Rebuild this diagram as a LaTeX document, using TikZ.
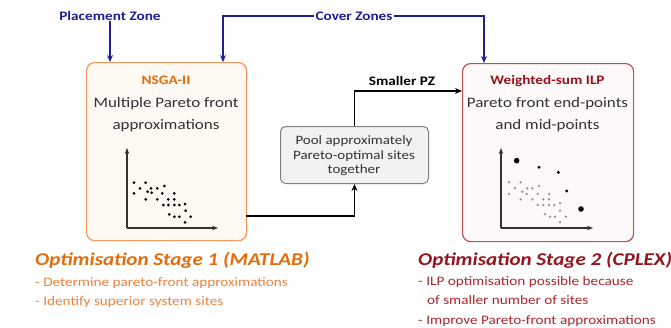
\documentclass[tikz,border=0pt]{standalone}
\usepackage{fontspec}
\setmainfont{Carlito}[FakeStretch=1.17]
\usetikzlibrary{arrows.meta}
\definecolor{navy}{RGB}{30,30,150}
\definecolor{orangeT}{RGB}{228,108,10}
\definecolor{orangeL}{RGB}{238,130,60}
\definecolor{orangeB}{RGB}{242,150,90}
\definecolor{orangeF}{RGB}{255,249,244}
\definecolor{redT}{RGB}{150,20,28}
\definecolor{redL}{RGB}{170,40,45}
\definecolor{redB}{RGB}{192,80,85}
\definecolor{redF}{RGB}{253,249,249}
\definecolor{txt}{RGB}{50,50,50}
\begin{document}
\begin{tikzpicture}[x=1pt,y=-1pt,
  bigbox/.style={rounded corners=8pt,line width=1.2pt,minimum width=160pt,minimum height=178pt,anchor=north west,inner sep=0pt},
  blue arr/.style={draw=navy,line width=1.5pt,-{Stealth[length=7pt,width=6pt]}},
  black arr/.style={draw=black,line width=1.5pt,-{Stealth[length=7pt,width=6pt]}},
  axis/.style={draw=txt,line width=1.2pt,-{Stealth[length=6pt,width=4.5pt]}},
  lbl/.style={font=\fontsize{13}{15}\selectfont\bfseries,text=navy,anchor=base,inner sep=1pt},
  boxtxt/.style={font=\fontsize{14.5}{17}\selectfont,text=txt,anchor=base,inner sep=0pt},
  midtxt/.style={font=\fontsize{12.8}{15}\selectfont,text=txt,anchor=base,inner sep=0pt},
  stage/.style={font=\fontsize{18}{22}\selectfont\bfseries\itshape,anchor=base west,inner sep=0pt},
  bullet/.style={font=\fontsize{13}{15}\selectfont,anchor=base west,inner sep=0pt}]
\useasboundingbox (0,0) rectangle (671,327);
\fill[white] (0,0) rectangle (671,327);

% boxes
\node[bigbox,draw=orangeB,fill=orangeF] (box1) at (86,62) {};
\node[bigbox,draw=redB,fill=redF,minimum width=171pt] (box2) at (462,63) {};
\node[draw=gray,fill=gray!10,rounded corners=5pt,line width=1pt,minimum width=148pt,minimum height=57pt,anchor=north west] (mid) at (280,126) {};

% box 1 text
\node[font=\fontsize{13}{15}\selectfont\bfseries,text=orangeT,anchor=base,inner sep=0pt] (t1) at (166,84) {NSGA-II};
\node[boxtxt] (t1a) at (166,107.5) {Multiple Pareto front};
\node[boxtxt] (t1b) at (166,129) {approximations};

% box 2 text
\node[font=\fontsize{13}{15}\selectfont\bfseries,text=redT,anchor=base,inner sep=0pt] (t2) at (547.5,84) {Weighted-sum ILP};
\node[boxtxt] (t2a) at (547.5,107.5) {Pareto front end-points};
\node[boxtxt] (t2b) at (547.5,129) {and mid-points};

% middle text
\node[midtxt] (m1) at (354,144) {Pool approximately};
\node[midtxt] (m2) at (354,159) {Pareto-optimal sites};
\node[midtxt] (m3) at (354,173.5) {together};

% axes box 1
\coordinate (o1) at (127,228);
\coordinate (y1) at (127,148);
\coordinate (x1) at (218,228);
\draw[axis] (o1) -- (y1);
\draw[axis] (o1) -- (x1);
\foreach \a/\b in {162/383,197/383,180/400,213/400,232/400,253/393,162/415,203/410,215/413,247/415,283/415,197/433,232/433,265/433,283/433,250/450,265/450,283/450,298/450,315/447,317/467,268/478,283/485,298/485,332/485,315/502}
  \fill[black] (80+\a/3,55+\b/3) circle (1.5pt);

% axes box 2
\coordinate (o2) at (501,228);
\coordinate (y2) at (501,148);
\coordinate (x2) at (593,228);
\draw[axis] (o2) -- (y2);
\draw[axis] (o2) -- (x2);
\foreach \a/\b in {207/382,242/382,225/400,247/410,262/400,277/400,297/393,207/417,260/417,293/417,328/417,242/433,277/433,310/433,327/433,293/450,310/450,327/450,343/450,360/445,360/467,315/478,330/485,345/485,378/485,360/502}
  \fill[gray!80] (440+\a/3,55+\b/3) circle (1.4pt);
\foreach \a/\b in {297/337,355/352,380/408}
  \fill[black] (440+\a/3,55+\b/3) circle (1.6pt);
\foreach \a/\b in {230/317,423/462}
  \fill[black] (440+\a/3,55+\b/3) circle (2.8pt);

% top labels and blue arrows
\node[lbl] (pz) at (110,20) {Placement Zone};
\node[lbl] (cz) at (354,20) {Cover Zones};
\coordinate (in1) at (223,62);
\coordinate (in2) at (484,63);
\draw[blue arr] (pz) -- (pz |- box1.north);
\draw[blue arr] (cz.west) -| (in1);
\draw[blue arr] (cz.east) -| (in2);

% black arrows
\coordinate (out1) at (246,216);
\coordinate (in3) at (462,91);
\draw[black arr] (out1) -| (mid.south);
\draw[black arr] (mid.north) |- (in3);
\node[font=\fontsize{13}{15}\selectfont\bfseries,anchor=base,inner sep=0pt] (spz) at (402,85) {Smaller PZ};

% bottom texts
\node[stage,text=orangeT] (s1) at (35,265) {Optimisation Stage 1 (MATLAB)};
\node[bullet,text=orangeL] (s1a) at (35,286) {- Determine pareto-front approximations};
\node[bullet,text=orangeL] (s1b) at (35,305) {- Identify superior system sites};

\node[stage,text=redT] (s2) at (418,265) {Optimisation Stage 2 (CPLEX)};
\node[bullet,text=redL] (s2a) at (418,285) {- ILP optimisation possible because};
\node[bullet,text=redL] (s2b) at (427,304) {of smaller number of sites};
\node[bullet,text=redL] (s2c) at (418,324) {- Improve Pareto-front approximations};
\end{tikzpicture}
\end{document}
